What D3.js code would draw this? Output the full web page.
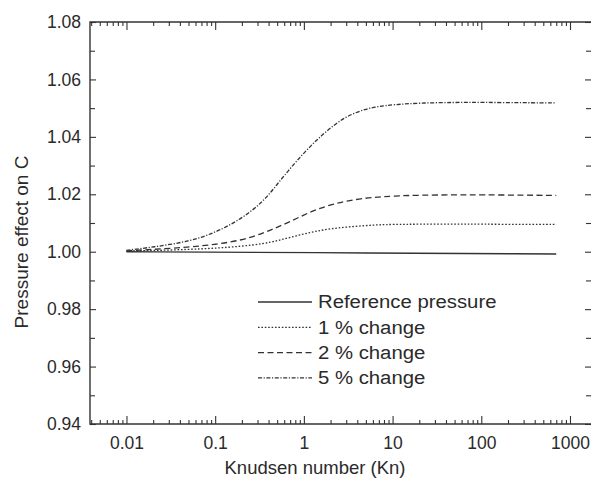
<!DOCTYPE html>
<html>
<head>
<meta charset="utf-8">
<script src="https://cdn.jsdelivr.net/npm/d3@7"></script>
<style>
  body { margin: 0; background: #fff; }
  text { font-family: "Liberation Sans", Arial, Helvetica, sans-serif; fill: #2a2a2a; }
</style>
</head>
<body>
<div id="chart"></div>
<script>
// values
const kn = [0.01, 0.02, 0.05, 0.1, 0.2, 0.35, 0.5, 0.7, 1, 1.4, 2, 3, 5, 7, 10, 20, 50, 100, 300, 700];
const change1 = [1.0002, 1.0004, 1.0008, 1.0012, 1.0019, 1.0028, 1.0038, 1.0050, 1.0062, 1.0072, 1.0080, 1.0086, 1.0091, 1.0094, 1.0095, 1.0096, 1.0096, 1.0096, 1.0095, 1.0095];
const change2 = [1.0003, 1.0008, 1.0016, 1.0025, 1.0040, 1.0065, 1.0085, 1.0105, 1.0128, 1.0148, 1.0163, 1.0177, 1.0187, 1.0190, 1.0194, 1.0197, 1.0198, 1.0198, 1.0197, 1.0196];
const change5 = [1.0005, 1.0016, 1.0035, 1.0066, 1.0115, 1.0175, 1.0235, 1.0290, 1.0344, 1.0390, 1.0432, 1.0472, 1.0498, 1.0506, 1.0512, 1.0518, 1.0520, 1.0520, 1.0519, 1.0518];
const refKn = [0.01, 1, 700];
const refVal = [1.0000, 0.9997, 0.9992];

const xTickValues = [0.01, 0.1, 1, 10, 100, 1000];
const yTickValues = [0.94, 0.96, 0.98, 1.00, 1.02, 1.04, 1.06, 1.08];
const legendLabels = ["Reference pressure", "1 % change", "2 % change", "5 % change"];
const dashes = [null, "1.6,1.8", "6,3.5", "4,1.6,1.2,1.6"];

const width = 592, height = 480;
const margin = {left: 90, right: 1, top: 22, bottom: 56};

const svg = d3.select("#chart").append("svg")
    .attr("width", width)
    .attr("height", height);

const x = d3.scaleLog()
    .domain([0.00388, 1725])
    .range([margin.left, width - margin.right]);

const y = d3.scaleLinear()
    .domain([0.94, 1.08])
    .range([height - margin.bottom, margin.top]);

const minorX = x.ticks().filter(t => xTickValues.indexOf(t) < 0);
const minorY = d3.range(0.95, 1.08, 0.02);

// axes, ticks pointing inward on all four sides
const axisStyle = g => {
    g.select(".domain").remove();
    g.selectAll("line").attr("stroke", "#333").attr("stroke-width", 1.1);
    g.selectAll("text").attr("font-size", "17.5px").attr("fill", "#2a2a2a");
};

svg.append("g")
    .attr("transform", `translate(0,${height - margin.bottom})`)
    .call(d3.axisBottom(x).tickValues(xTickValues).tickSize(-8).tickPadding(13)
        .tickFormat(d => d3.format("~g")(d)))
    .call(axisStyle);
svg.append("g")
    .attr("transform", `translate(0,${height - margin.bottom})`)
    .call(d3.axisBottom(x).tickValues(minorX).tickSize(-4).tickFormat(""))
    .call(axisStyle);
svg.append("g")
    .attr("transform", `translate(0,${margin.top})`)
    .call(d3.axisTop(x).tickValues(xTickValues).tickSize(-8).tickFormat(""))
    .call(axisStyle);
svg.append("g")
    .attr("transform", `translate(0,${margin.top})`)
    .call(d3.axisTop(x).tickValues(minorX).tickSize(-4).tickFormat(""))
    .call(axisStyle);

svg.append("g")
    .attr("transform", `translate(${margin.left},0)`)
    .call(d3.axisLeft(y).tickValues(yTickValues).tickSize(-6).tickPadding(9)
        .tickFormat(d3.format(".2f")))
    .call(axisStyle);
svg.append("g")
    .attr("transform", `translate(${margin.left},0)`)
    .call(d3.axisLeft(y).tickValues(minorY).tickSize(-5).tickFormat(""))
    .call(axisStyle);
svg.append("g")
    .attr("transform", `translate(${width - margin.right},0)`)
    .call(d3.axisRight(y).tickValues(yTickValues).tickSize(-6).tickFormat(""))
    .call(axisStyle);
svg.append("g")
    .attr("transform", `translate(${width - margin.right},0)`)
    .call(d3.axisRight(y).tickValues(minorY).tickSize(-5).tickFormat(""))
    .call(axisStyle);

// frame (top, left, bottom; right edge sits at the picture border)
svg.append("path")
    .attr("d", `M${width - margin.right},${margin.top}H${margin.left}V${height - margin.bottom}H${width - margin.right}`)
    .attr("fill", "none")
    .attr("stroke", "#333")
    .attr("stroke-width", 1.4);

// curves
const line = d3.line()
    .x(d => x(d[0]))
    .y(d => y(d[1]))
    .curve(d3.curveBasis);

const series = [
    d3.zip(refKn, refVal),
    d3.zip(kn, change1),
    d3.zip(kn, change2),
    d3.zip(kn, change5)
];

svg.selectAll(".curve")
    .data(series)
    .enter().append("path")
    .attr("class", "curve")
    .attr("d", line)
    .attr("fill", "none")
    .attr("stroke", "#333")
    .attr("stroke-width", (d, i) => i === 0 ? 1.4 : 1.3)
    .attr("stroke-dasharray", (d, i) => dashes[i]);

// legend
const legend = svg.append("g").attr("transform", "translate(258,302)");
legendLabels.forEach((label, i) => {
    const row = legend.append("g").attr("transform", `translate(0,${i * 25.3})`);
    row.append("line")
        .attr("x1", 0).attr("x2", 54)
        .attr("stroke", "#333")
        .attr("stroke-width", i === 0 ? 1.4 : 1.2)
        .attr("stroke-dasharray", dashes[i]);
    row.append("text")
        .attr("transform", "translate(60,0) scale(1.13,1)")
        .attr("dy", "0.35em")
        .attr("font-size", "18px")
        .text(label);
});

// axis titles
svg.append("text")
    .attr("x", 315)
    .attr("y", 474)
    .attr("text-anchor", "middle")
    .attr("font-size", "18.5px")
    .text("Knudsen number (Kn)");

svg.append("text")
    .attr("transform", "translate(28,242) rotate(-90)")
    .attr("text-anchor", "middle")
    .attr("font-size", "19px")
    .text("Pressure effect on C");
</script>
</body>
</html>
